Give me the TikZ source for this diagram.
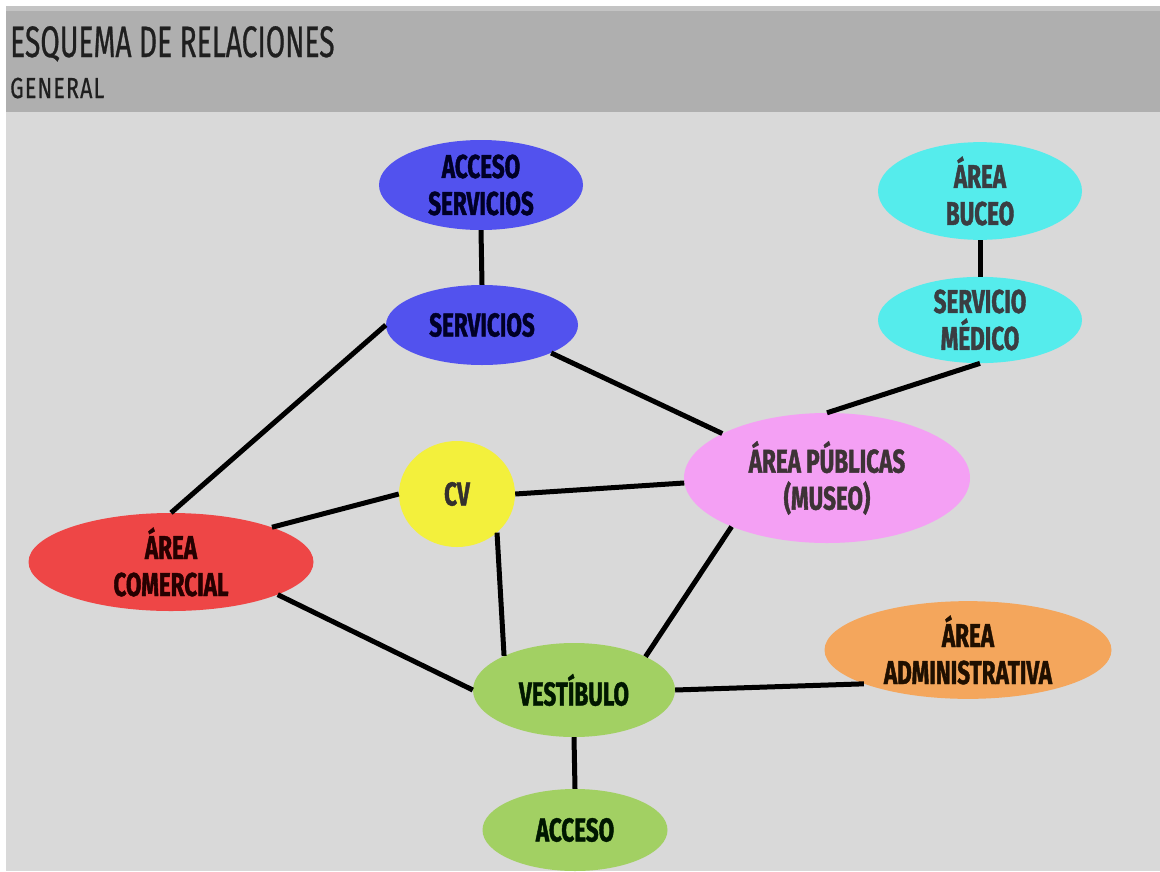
\documentclass[tikz,border=0pt]{standalone}
\usepackage{fontspec}
\usetikzlibrary{shapes.geometric}
\newfontfamily\nodefont[FakeStretch=0.68, FakeBold=1.2]{Fira Sans}
\newfontfamily\headfont[FakeStretch=0.64, FakeBold=0.6]{Fira Sans}
\newfontfamily\subheadfont[FakeStretch=0.74, FakeBold=0.6, LetterSpace=4]{Fira Sans}

\definecolor{pagebg}{HTML}{D9D9D9}
\definecolor{headbg}{HTML}{AFAFAF}
\definecolor{headline}{HTML}{C4C4C4}
\definecolor{cblue}{HTML}{5252EE}
\definecolor{ccyan}{HTML}{55ECEC}
\definecolor{cpink}{HTML}{F4A0F4}
\definecolor{cyellow}{HTML}{F3F03C}
\definecolor{cred}{HTML}{EE4646}
\definecolor{cgreen}{HTML}{A2D063}
\definecolor{corange}{HTML}{F4A65C}

\tikzset{
  bubble/.style={ellipse, inner sep=0pt, align=center,
    font=\nodefont\bfseries\fontsize{33}{37}\selectfont},
  blueb/.style={bubble, fill=cblue, text=black!85!blue},
  cyanb/.style={bubble, fill=ccyan, text=black!85!cyan},
  pinkb/.style={bubble, fill=cpink, text=black!88!magenta},
  yellowb/.style={bubble, fill=cyellow, text=black!92!yellow},
  redb/.style={bubble, fill=cred, text=black!85!red},
  greenb/.style={bubble, fill=cgreen, text=black!85!green!60!black},
  orangeb/.style={bubble, fill=corange, text=black!88!orange},
  link/.style={line width=5pt, black},
}

\begin{document}
\begin{tikzpicture}[x=1pt, y=-1pt]
  \useasboundingbox (0,0) rectangle (1160,871);
  % page, body and header band
  \fill[white] (0,0) rectangle (1160,871);
  \fill[pagebg] (6,112) rectangle (1160,871);
  \fill[headline] (6,6) rectangle (1160,11);
  \fill[headbg] (6,11) rectangle (1160,112);
  \node[anchor=base west, inner sep=0pt, text=black!88,
        font=\headfont\fontsize{44}{45}\selectfont] (title) at (10,57) {ESQUEMA DE RELACIONES};
  \node[anchor=base west, inner sep=0pt, text=black!88,
        font=\subheadfont\fontsize{29}{30}\selectfont] (subtitle) at (10,98) {GENERAL};

  % areas
  \node[blueb, minimum width=204pt, minimum height=90pt] (acs) at (481,185) {ACCESO\\SERVICIOS};
  \node[blueb, minimum width=192pt, minimum height=80pt] (srv) at (482,325) {SERVICIOS};
  \node[cyanb, minimum width=204pt, minimum height=86pt] (buc) at (980,191) {ÁREA\\BUCEO};
  \node[cyanb, minimum width=204pt, minimum height=86pt] (med) at (980,320) {SERVICIO\\MÉDICO};
  \node[pinkb, minimum width=286pt, minimum height=130pt] (pub) at (827,478) {ÁREA PÚBLICAS\\(MUSEO)};
  \node[yellowb, minimum width=116pt, minimum height=106pt] (cv) at (457,494) {CV};
  \node[redb, minimum width=285pt, minimum height=98pt] (com) at (171,562) {ÁREA\\COMERCIAL};
  \node[greenb, minimum width=202pt, minimum height=94pt] (ves) at (574,690) {VESTÍBULO};
  \node[orangeb, minimum width=287pt, minimum height=95pt] (adm) at (968,650) {ÁREA\\ADMINISTRATIVA};
  \node[greenb, minimum width=185pt, minimum height=82pt] (acc) at (575,830) {ACCESO};

  % relations
  \draw[link] (acs.south) -- (srv.north);
  \draw[link] (srv.west) -- (com.north);
  \draw[link] (srv.-22) -- (pub.157);
  \draw[link] (buc.south) -- (med.north);
  \draw[link] (med.south) -- (pub.north);
  \draw[link] (cv.west) -- (com.19);
  \draw[link] (cv.east) -- (pub.182);
  \draw[link] (cv.-44) -- (ves.154);
  \draw[link] (com.-17) -- (ves.west);
  \draw[link] (pub.207) -- (ves.25);
  \draw[link] (ves.east) -- (adm.198);
  \draw[link] (ves.south) -- (acc.north);
\end{tikzpicture}
\end{document}
